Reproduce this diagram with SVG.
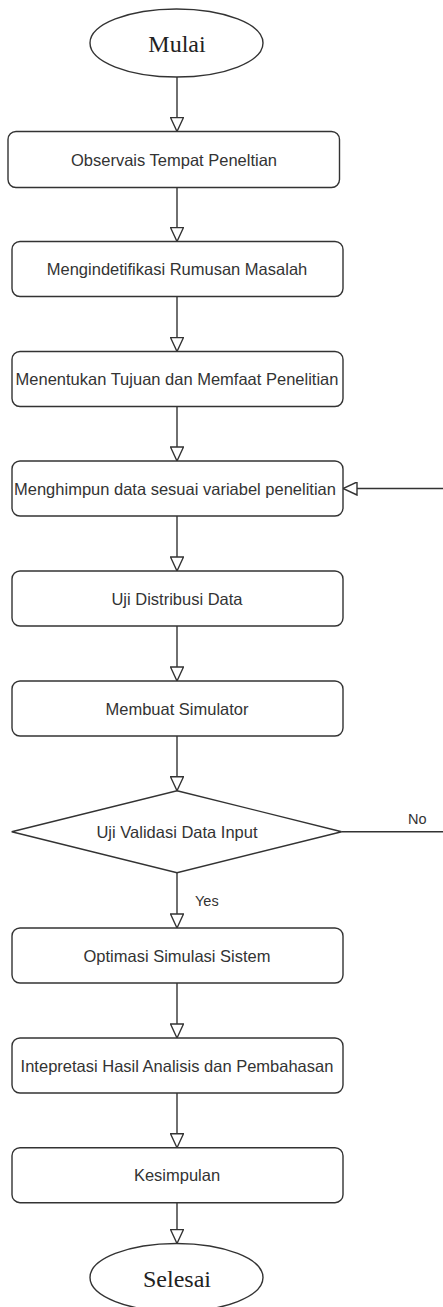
<svg xmlns="http://www.w3.org/2000/svg" width="443" height="1307" viewBox="0 0 443 1307">
<style>
.box{fill:#fff;stroke:#333;stroke-width:1.4}
.t{font-family:"Liberation Sans",Arial,sans-serif;font-size:16.5px;fill:#333;text-anchor:middle}
.s{font-family:"Liberation Serif","Times New Roman",serif;font-size:24px;fill:#222;text-anchor:middle}
.lbl{font-family:"Liberation Sans",Arial,sans-serif;font-size:14.5px;fill:#333}
.c{fill:none;stroke:#333;stroke-width:1.4}
</style>
<defs>
<marker id="ah" viewBox="0 0 16 14" markerWidth="16" markerHeight="14" refX="15" refY="7" orient="auto" markerUnits="userSpaceOnUse">
<path d="M1,0.5 L15,7 L1,13.5 Z" fill="#fff" stroke="#333" stroke-width="1.4"/>
</marker>
</defs>
<rect width="443" height="1307" fill="#fff"/>
<g id="connectors">
<path class="c" d="M177,77 V131.5" marker-end="url(#ah)"/>
<path class="c" d="M177,187.5 V241.5" marker-end="url(#ah)"/>
<path class="c" d="M177,296.5 V351.5" marker-end="url(#ah)"/>
<path class="c" d="M177,406.5 V461" marker-end="url(#ah)"/>
<path class="c" d="M177,516 V571" marker-end="url(#ah)"/>
<path class="c" d="M177,626 V681" marker-end="url(#ah)"/>
<path class="c" d="M177,736 V790.7" marker-end="url(#ah)"/>
<path class="c" d="M177,872.7 V928" marker-end="url(#ah)"/>
<path class="c" d="M177,983 V1038" marker-end="url(#ah)"/>
<path class="c" d="M177,1093 V1147.7" marker-end="url(#ah)"/>
<path class="c" d="M177,1202.5 V1243.5" marker-end="url(#ah)"/>
<path class="c" d="M341.7,831.7 H447 V488.5 H343" marker-end="url(#ah)"/>
<text class="lbl" x="408" y="823.5">No</text>
<text class="lbl" x="195" y="905.7">Yes</text>
</g>
<g id="mulai">
<ellipse class="box" cx="176.5" cy="43" rx="86.5" ry="34"/>
<text class="s" x="177" y="51.5">Mulai</text>
</g>
<g id="n1">
<rect class="box" x="8" y="131.5" width="331.5" height="56" rx="8"/>
<text class="t" x="174" y="165.5">Observais Tempat Peneltian</text>
</g>
<g id="n2">
<rect class="box" x="12" y="241.5" width="331" height="55" rx="8"/>
<text class="t" x="177" y="275">Mengindetifikasi Rumusan Masalah</text>
</g>
<g id="n3">
<rect class="box" x="12" y="351.5" width="331" height="55" rx="8"/>
<text class="t" x="177" y="385">Menentukan Tujuan dan Memfaat Penelitian</text>
</g>
<g id="n4">
<rect class="box" x="12" y="461" width="331" height="55" rx="8"/>
<text class="t" x="175" y="494.5">Menghimpun data sesuai variabel penelitian</text>
</g>
<g id="n5">
<rect class="box" x="12" y="571" width="331" height="55" rx="8"/>
<text class="t" x="177" y="604.5">Uji Distribusi Data</text>
</g>
<g id="n6">
<rect class="box" x="12" y="681" width="331" height="55" rx="8"/>
<text class="t" x="177" y="714.5">Membuat Simulator</text>
</g>
<g id="d1">
<polygon class="box" points="177,790.7 341.7,831.7 177,872.7 11.7,831.7"/>
<text class="t" x="177" y="837.5">Uji Validasi Data Input</text>
</g>
<g id="n7">
<rect class="box" x="12" y="928" width="331" height="55" rx="8"/>
<text class="t" x="177" y="961.5">Optimasi Simulasi Sistem</text>
</g>
<g id="n8">
<rect class="box" x="12" y="1038" width="331" height="55" rx="8"/>
<text class="t" x="177" y="1071.5">Intepretasi Hasil Analisis dan Pembahasan</text>
</g>
<g id="n9">
<rect class="box" x="12" y="1147.7" width="331" height="55" rx="8"/>
<text class="t" x="177" y="1181">Kesimpulan</text>
</g>
<g id="selesai">
<ellipse class="box" cx="176.5" cy="1277.5" rx="86.5" ry="34"/>
<text class="s" x="177" y="1286.5">Selesai</text>
</g>
</svg>
